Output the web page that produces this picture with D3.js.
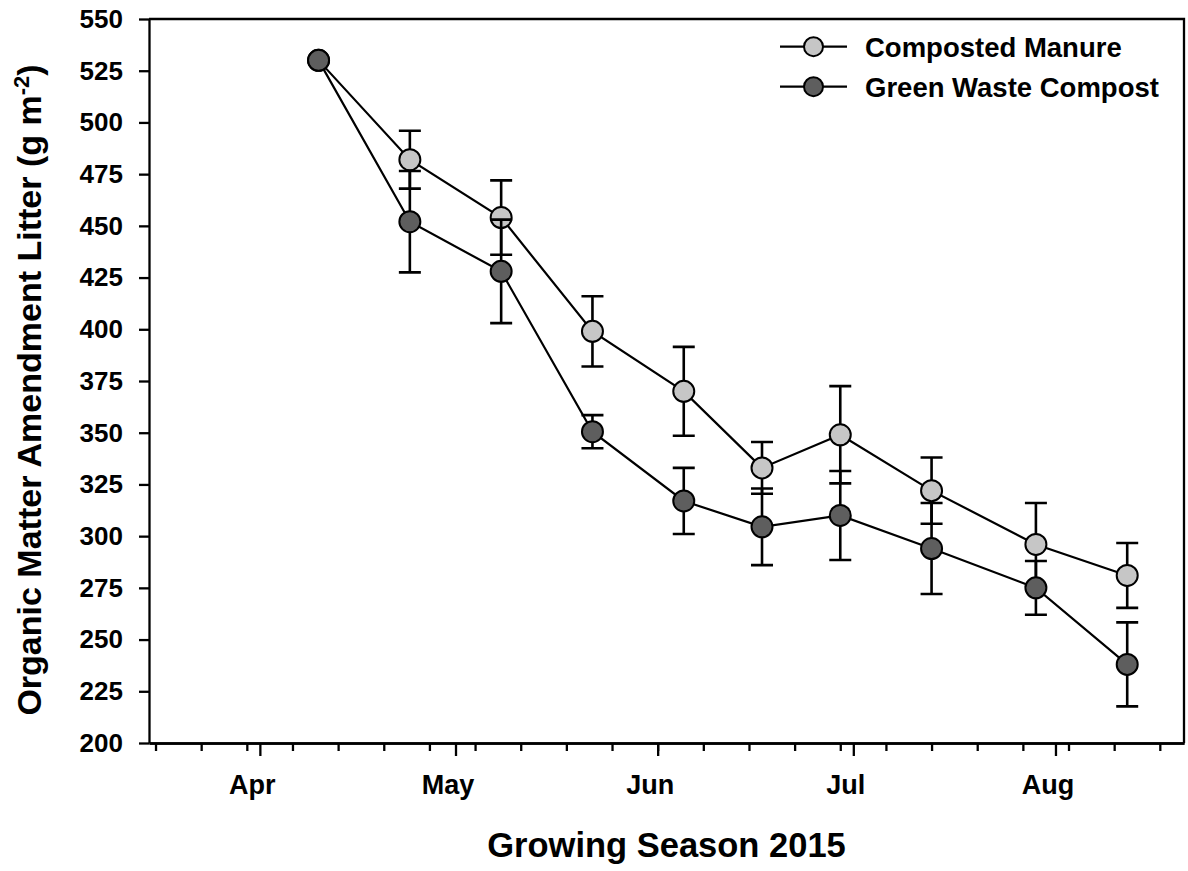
<!DOCTYPE html>
<meta charset="utf-8">
<style>
body { margin: 0; background: #fff; }
text { font-family: "Liberation Sans", Arial, sans-serif; font-weight: bold; fill: #000; }
.axis path, .axis line { stroke: #000; stroke-width: 2.3px; }
</style>
<svg width="1188" height="871"></svg>
<script src="https://d3js.org/d3.v7.min.js"></script>
<script>

// sampling dates and the two amendment series (g m-2), error = half bar height
var dates = ["2015-04-10", "2015-04-24", "2015-05-08", "2015-05-22", "2015-06-05",
             "2015-06-17", "2015-06-29", "2015-07-13", "2015-07-29", "2015-08-12"];
var manure = [530, 482, 454, 399, 370, 333, 349, 322, 296, 281];
var manureErr = [0, 14, 18, 17, 21.5, 12.5, 23.5, 16, 20, 15.7];
var greenWaste = [530, 452, 428, 350.5, 317, 304.5, 310, 294, 275, 238];
var greenWasteErr = [0, 24.5, 25, 8, 16, 18.5, 21.5, 22, 13, 20.3];
var yTicks = [200, 225, 250, 275, 300, 325, 350, 375, 400, 425, 450, 475, 500, 525, 550];

var parseDate = d3.timeParse("%Y-%m-%d");

var series = [
  {name: "Composted Manure", values: manure, err: manureErr, fill: "#c6c6c6"},
  {name: "Green Waste Compost", values: greenWaste, err: greenWasteErr, fill: "#5e5e5e"}
];

var svg = d3.select("svg"),
    plotLeft = 149, plotRight = 1184, plotTop = 19, plotBottom = 743;

var x = d3.scaleTime()
    .domain([new Date(2015, 2, 15), new Date(2015, 7, 20, 17)])
    .range([plotLeft, plotRight]);

var y = d3.scaleLinear()
    .domain([200, 550])
    .range([plotBottom, plotTop]);

// frame (top and right)
svg.append("path")
    .attr("d", "M" + plotLeft + "," + plotTop + "H" + plotRight + "V" + plotBottom)
    .attr("fill", "none")
    .attr("stroke", "#000")
    .attr("stroke-width", 2.3);

// minor weekly ticks
svg.append("g")
    .attr("class", "axis")
    .attr("transform", "translate(0," + plotBottom + ")")
    .call(d3.axisBottom(x)
        .tickValues(d3.timeMonday.range(x.domain()[0], x.domain()[1]))
        .tickSize(8)
        .tickSizeOuter(0)
        .tickFormat(""));

// major month ticks
var xAxis = svg.append("g")
    .attr("class", "axis")
    .attr("transform", "translate(0," + plotBottom + ")")
    .call(d3.axisBottom(x)
        .ticks(d3.timeMonth.every(1))
        .tickSize(13)
        .tickSizeOuter(0)
        .tickPadding(19)
        .tickFormat(d3.timeFormat("%b")));
xAxis.selectAll("text")
    .attr("dx", -8)
    .style("font-size", "27px");

var yAxis = svg.append("g")
    .attr("class", "axis")
    .attr("transform", "translate(" + plotLeft + ",0)")
    .call(d3.axisLeft(y)
        .tickValues(yTicks)
        .tickSize(10)
        .tickSizeOuter(0)
        .tickPadding(16));
yAxis.selectAll("text")
    .style("font-size", "26px");

// series
var line = d3.line()
    .x(function(d) { return x(d.date); })
    .y(function(d) { return y(d.value); });

series.forEach(function(s) {
  var pts = dates.map(function(d, i) {
    return {date: parseDate(d), value: s.values[i], err: s.err[i]};
  });
  var g = svg.append("g");

  g.append("path")
      .datum(pts)
      .attr("d", line)
      .attr("fill", "none")
      .attr("stroke", "#000")
      .attr("stroke-width", 2.2);

  g.selectAll(".err")
    .data(pts.filter(function(d) { return d.err > 0; }))
    .enter().append("path")
      .attr("class", "err")
      .attr("fill", "none")
      .attr("stroke", "#000")
      .attr("stroke-width", 2.6)
      .attr("d", function(d) {
        var cx = x(d.date), hi = y(d.value + d.err), lo = y(d.value - d.err);
        return "M" + (cx - 11) + "," + hi + "H" + (cx + 11) +
               "M" + cx + "," + hi + "V" + lo +
               "M" + (cx - 11) + "," + lo + "H" + (cx + 11);
      });

  g.selectAll("circle")
    .data(pts)
    .enter().append("circle")
      .attr("cx", function(d) { return x(d.date); })
      .attr("cy", function(d) { return y(d.value); })
      .attr("r", 10.5)
      .attr("fill", s.fill)
      .attr("stroke", "#000")
      .attr("stroke-width", 2);
});

// legend
var legend = svg.append("g")
    .selectAll("g")
    .data(series)
    .enter().append("g")
      .attr("transform", function(d, i) { return "translate(780," + (46.7 + i * 40) + ")"; });

legend.append("line")
    .attr("x1", 0).attr("x2", 67)
    .attr("stroke", "#000")
    .attr("stroke-width", 2.2);

legend.append("circle")
    .attr("cx", 33.5)
    .attr("r", 9.5)
    .attr("fill", function(d) { return d.fill; })
    .attr("stroke", "#000")
    .attr("stroke-width", 2);

legend.append("text")
    .attr("x", 85)
    .attr("y", 10)
    .style("font-size", "27.5px")
    .text(function(d) { return d.name; });

// axis titles
svg.append("text")
    .attr("x", (plotLeft + plotRight) / 2)
    .attr("y", 857)
    .attr("text-anchor", "middle")
    .style("font-size", "34.5px")
    .text("Growing Season 2015");

var yTitle = svg.append("text")
    .attr("transform", "translate(41,390) rotate(-90)")
    .attr("text-anchor", "middle")
    .style("font-size", "34px");
yTitle.append("tspan").text("Organic Matter Amendment Litter (g m");
yTitle.append("tspan").attr("dy", -12).style("font-size", "22px").text("-2");
yTitle.append("tspan").attr("dy", 12).text(")");

</script>
